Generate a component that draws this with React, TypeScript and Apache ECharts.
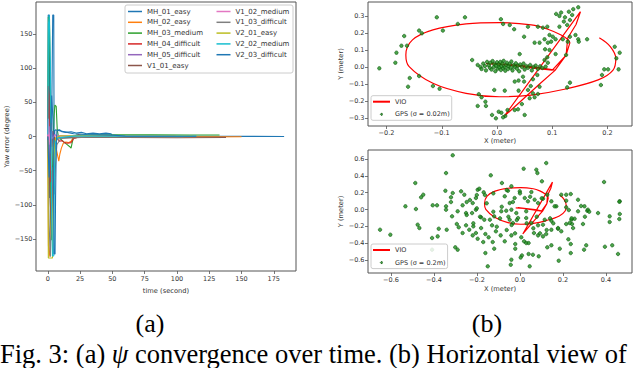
import React, { useEffect, useRef } from 'react';
import * as echarts from 'echarts';

// ---------- Left panel: yaw error vs time ----------
const timeTicks = [0, 25, 50, 75, 100, 125, 150, 175];
const yawTicks = [-150, -100, -50, 0, 50, 100, 150];

const seqNames = [
  'MH_01_easy', 'MH_02_easy', 'MH_03_medium', 'MH_04_difficult', 'MH_05_difficult', 'V1_01_easy',
  'V1_02_medium', 'V1_03_difficult', 'V2_01_easy', 'V2_02_medium', 'V2_03_difficult',
];
const seqColors = [
  '#1f77b4', '#ff7f0e', '#2ca02c', '#d62728', '#9467bd', '#8c564b',
  '#e377c2', '#7f7f7f', '#bcbd22', '#17becf', '#1f77b4',
];

const mh01 = [[0, 2], [0.3, 178], [1.2, 178], [1.4, -90], [2.2, -30], [3, 25], [3.8, 178], [4.6, 178], [4.9, -40], [5.4, 8], [6, 10], [7, 9], [9, 10], [11, 7], [14, 6], [18, 7], [22, 5], [26, 6], [30, 4], [35, 5], [40, 4], [45, 5], [49, 4], [50, 0.5], [70, 0.3], [100, 0.2], [140, 0.3], [183, 0]];
const mh02 = [[0, -3], [0.5, -160], [1, -176], [1.6, -168], [2.2, -110], [3, -50], [4, -70], [5, -30], [6, -12], [7, -22], [8.5, -36], [9.3, -26], [10.5, -17], [12, -10], [14, -8], [16, -9], [18, -7], [19.5, -2], [22, -1], [40, -0.5], [80, -0.8], [120, -0.5], [150, -0.3]];
const mh03 = [[0, 8], [0.4, 175], [1.3, 172], [1.8, 90], [2.4, -120], [3, -152], [3.4, -80], [4, -10], [4.8, 30], [5.5, 46], [6.5, 44], [7.3, 10], [8, 2], [10, -4], [13, -9], [15, -12], [17, -15], [18, -17], [19, -8], [20, 0], [22, 2], [40, 2.5], [80, 2.6], [110, 2.2], [133, 2.2]];
const mh04 = [[0, 0], [0.4, 74], [0.9, 60], [1.4, -45], [1.9, -67], [2.4, 20], [3, -15], [4, 8], [5, -4], [7, -2], [9, -7], [11, -6], [13, -9], [15, -10], [18, -9], [20, -3], [22, -2], [23.5, 3], [26, 1], [50, 0.6], [99, 0.3]];
const mh05 = [[0, 0], [0.4, 26], [0.9, -50], [1.5, 15], [2.2, -25], [3, 8], [4, -4], [5, 3], [7, 1], [20, 0.5], [60, 0.2], [111, 0]];
const v101 = [[0, 0], [0.8, -30], [1.8, -95], [2.8, -125], [3.8, -70], [4.8, -25], [6, -6], [8, -2], [20, -1.2], [60, -1.5], [100, -1.8], [138, -1.5]];
const v102 = [[0, 0], [0.5, 26], [1, -12], [2, 6], [3, -3], [5, 1], [20, 0.3], [83, 0]];
const v103 = [[0, 0], [1, -130], [2, -176], [3, -100], [4, -45], [5, -85], [6, -40], [7, -12], [10, -3], [30, -1], [105, -0.5]];
const v201 = [[0, -5], [0.4, -178], [3.6, -178], [4, -110], [5, -25], [6, -2], [10, 1], [60, 0.8], [112, 0.5]];
const v202 = [[0, 3], [0.5, 165], [1.1, 178], [2, 110], [3, -110], [3.6, -175], [4.6, -175], [5.1, -50], [6, -8], [8, -2], [20, 0.5], [115, 0.3]];
const v203 = [[0, 0], [1, -60], [2, -15], [3, 60], [4, 25], [4.8, -172], [5.6, -172], [6, -90], [6.5, -20], [7, 8], [8, 9], [10, 8], [15, 6], [20, 4], [30, 3], [50, 2], [60, 0.5], [115, 0.3]];
const yawData = [mh01, mh02, mh03, mh04, mh05, v101, v102, v103, v201, v202, v203];

// ---------- Right panels: VIO trajectory and GPS ----------
const xTicksTop = [-0.2, -0.1, 0, 0.1, 0.2];
const yTicksTop = [-0.3, -0.2, -0.1, 0, 0.1, 0.2, 0.3];
const xTicksBot = [-0.6, -0.4, -0.2, 0, 0.2, 0.4];
const yTicksBot = [-0.6, -0.4, -0.2, 0, 0.2, 0.4, 0.6];

const vioLoop = [[-0.02, 0.02], [0.02, 0.012], [0.06, 0.0], [0.105, -0.018], [0.07, 0.0], [0.03, 0.012], [-0.01, 0.022], [0.03, 0.008], [0.07, -0.008], [0.1, -0.018], [0.125, 0.069], [0.128, 0.17], [0.143, 0.25], [0.151, 0.325], [0.013, -0.29], [0.077, -0.1], [0.105, -0.02], [0.125, 0.07], [0.132, 0.143]];
const vioEllipse = [[0.132, 0.143], [0.129, 0.159], [0.116, 0.188], [0.092, 0.222], [0.062, 0.247], [0.004, 0.261], [-0.056, 0.253], [-0.116, 0.218], [-0.153, 0.159], [-0.165, 0.071], [-0.159, 0.002], [-0.116, -0.096], [-0.056, -0.155], [0.004, -0.175], [0.062, -0.165], [0.122, -0.131], [0.183, -0.076], [0.21, -0.018], [0.215, 0.05], [0.205, 0.12], [0.185, 0.172]];

const gpsSmall = [
  [-0.213, -0.008], [-0.109, 0.292], [-0.058, 0.292], [-0.071, 0.253], [-0.098, 0.214], [-0.141, 0.214], [-0.136, 0.198], [-0.168, 0.182], [-0.173, 0.125], [-0.163, 0.125], [-0.182, 0.084], [-0.184, 0.025], [-0.158, -0.065], [-0.141, -0.053], [-0.161, -0.116], [-0.116, -0.112], [-0.104, -0.128], [-0.045, 0.041], [-0.033, -0.16], [-0.005, -0.135], [-0.021, -0.204], [-0.035, -0.229], [-0.02, -0.229], [-0.009, -0.282], [-0.002, -0.302], [0.003, -0.263], [-0.028, -0.178],
  [0.147, 0.351], [0.138, 0.34], [0.13, 0.325], [0.116, 0.32], [0.107, 0.312], [0.113, 0.3], [0.123, 0.292], [0.132, 0.276], [0.136, 0.306], [0.121, 0.267], [0.127, 0.247], [0.113, 0.237], [0.007, 0.281], [0.011, 0.253], [0.023, 0.247], [0.031, 0.222], [0.056, 0.237], [0.074, 0.237], [0.083, 0.231], [0.091, 0.237], [0.049, 0.178], [0.068, 0.143], [0.077, 0.143], [0.086, 0.163], [0.095, 0.188], [0.101, 0.178], [0.106, 0.163], [0.092, 0.143], [0.098, 0.149], [0.119, 0.163], [0.132, 0.178], [0.128, 0.149], [0.142, 0.188], [0.147, 0.163], [0.148, 0.149], [0.163, 0.163], [0.087, 0.104], [0.095, 0.1], [0.041, 0.076], [0.106, 0.076], [0.125, 0.071], [0.091, 0.057], [0.086, 0.041], [0.092, 0.025], [0.213, 0.119], [0.222, 0.084], [0.216, 0.051], [0.22, -0.014], [0.201, -0.014], [0.194, -0.014], [0.19, -0.047], [0.188, -0.106], [0.132, -0.092], [0.127, -0.12], [0.047, -0.057], [0.039, -0.08], [0.049, -0.086], [0.032, -0.086], [0.065, -0.072], [0.073, -0.047], [0.077, -0.116], [0.061, -0.112], [0.014, -0.139], [0.039, -0.139], [0.056, -0.135], [0.065, -0.155], [0.068, -0.178], [0.074, -0.159], [0.059, -0.184], [0.045, -0.218], [0.032, -0.253], [0.038, -0.249], [0.015, -0.288], [0.011, -0.296], [0.05, -0.282], [0.019, -0.253], [0.008, -0.269],
  [-0.035, 0.012], [-0.03, 0.0], [-0.028, -0.012], [-0.025, 0.02], [-0.022, 0.005], [-0.02, -0.02], [-0.018, 0.03], [-0.015, 0.01], [-0.013, -0.005], [-0.012, 0.025], [-0.01, -0.015], [-0.008, 0.035], [-0.006, 0.0], [-0.005, 0.018], [-0.003, -0.025], [-0.002, 0.008], [0.0, 0.028], [0.001, -0.01], [0.003, 0.015], [0.004, -0.002], [0.006, 0.03], [0.007, -0.018], [0.008, 0.005], [0.01, 0.02], [0.011, -0.008], [0.012, 0.036], [0.014, 0.0], [0.015, -0.022], [0.016, 0.012], [0.018, 0.025], [0.02, -0.012], [0.021, 0.005], [0.023, 0.018], [0.025, -0.004], [0.026, 0.032], [0.028, -0.02], [0.03, 0.01], [0.032, 0.0], [0.034, 0.022], [0.036, -0.01], [0.038, 0.008], [0.04, -0.025], [0.042, 0.015], [0.045, 0.0], [0.048, 0.02], [0.05, -0.015], [0.053, 0.006], [0.056, -0.005], [0.06, 0.012], [0.063, -0.02], [0.066, 0.0], [0.07, 0.008], [0.074, -0.012], [0.078, 0.004], [0.082, -0.006], [0.088, 0.002],
];

const gpsLarge = [
  [-0.313, 0.644], [-0.344, 0.433], [-0.487, 0.315], [-0.45, 0.176], [-0.46, 0.145], [-0.533, 0.038], [-0.484, 0.006], [-0.406, 0.05], [-0.386, 0.05], [-0.347, 0.223], [-0.313, 0.196], [-0.321, 0.145], [-0.321, 0.089], [-0.344, 0.038], [-0.344, -0.002], [-0.29, -0.021], [-0.316, -0.081], [-0.274, 0.216], [-0.259, 0.176], [-0.248, 0.089], [-0.267, 0.05], [-0.251, -0.042], [-0.223, -0.042], [-0.205, -0.002], [-0.22, 0.077], [-0.205, 0.137], [-0.197, 0.235], [-0.189, 0.247], [-0.169, 0.204], [-0.136, 0.406],
  [-0.476, -0.18], [-0.468, -0.22], [-0.651, -0.24], [-0.603, -0.299], [-0.378, -0.228], [-0.409, -0.338], [-0.383, -0.319], [-0.341, -0.24], [-0.294, -0.172], [-0.285, -0.211], [-0.267, -0.279], [-0.301, -0.449], [-0.29, -0.477], [-0.251, -0.188], [-0.236, -0.24], [-0.22, -0.307], [-0.217, -0.2], [-0.205, -0.279], [-0.197, -0.347], [-0.181, -0.22], [-0.161, -0.291], [-0.171, -0.386], [-0.15, -0.675], [-0.161, -0.517], [-0.146, -0.33], [-0.127, -0.386], [-0.12, -0.465], [-0.112, -0.259], [-0.13, -0.188], [-0.14, -0.121], [-0.12, -0.081], [-0.166, -0.121], [-0.181, -0.093], [-0.409, -0.477],
  [0.122, 0.552], [0.017, 0.485], [0.076, 0.473], [0.081, 0.433], [0.102, 0.335], [-0.084, 0.315], [0.391, 0.327], [-0.04, 0.276],
  [0.363, -0.042], [0.417, -0.081], [0.417, -0.148], [0.464, 0.097], [0.464, -0.053], [0.429, -0.425], [0.456, -0.528], [0.308, -0.425], [0.298, -0.477], [0.236, -0.517], [0.236, -0.41], [0.185, -0.465], [0.18, -0.608], [0.146, -0.425], [0.127, -0.449], [0.087, -0.556], [0.06, -0.537], [0.04, -0.528], [0.045, -0.675], [0.009, -0.545], [0.003, -0.57], [-0.04, -0.596], [-0.043, -0.656], [-0.022, -0.465], [-0.022, -0.41], [0.019, -0.378], [0.029, -0.398], [0.04, -0.398], [-0.071, -0.378], [-0.09, -0.307], [-0.04, -0.307], [0.006, -0.33], [0.084, -0.307], [0.107, -0.319], [0.122, -0.291], [0.065, -0.279], [0.146, -0.24], [0.177, -0.228], [0.215, -0.172], [0.242, -0.172], [0.254, -0.109], [0.27, -0.021], [0.3, 0.038], [0.313, -0.014], [0.27, 0.116], [0.236, 0.184], [0.215, 0.176], [0.192, 0.176], [0.215, 0.105], [0.215, 0.026], [0.227, -0.006], [0.169, 0.038],
  [-0.056, 0.223], [-0.001, 0.216], [0.053, 0.208], [-0.071, 0.157], [-0.025, 0.137], [0.022, 0.137], [0.068, 0.117], [0.107, 0.129], [0.127, 0.176], [0.146, 0.097], [-0.048, 0.077], [-0.033, 0.089], [0.037, 0.097], [0.084, 0.077], [0.161, 0.038], [-0.087, -0.021], [-0.064, -0.014], [-0.04, -0.002], [-0.017, -0.042], [0.029, -0.021], [-0.009, -0.101], [-0.048, -0.121], [-0.033, -0.16], [0.029, -0.101], [0.053, -0.16], [0.084, -0.188], [0.107, -0.18], [0.115, -0.121], [0.146, -0.133], [0.177, -0.22], [0.192, -0.259], [0.239, -0.121], [0.231, -0.16], [0.247, -0.22], [0.293, -0.172], [0.316, -0.002],
  [0.462, 0.093], [0.462, -0.113], [0.322, -0.026], [0.284, 0.042], [0.302, -0.085], [0.24, -0.105], [0.225, -0.354], [0.395, -0.442],
  [-0.233, 0.113], [-0.201, 0.014], [-0.186, -0.085], [-0.248, -0.065], [-0.217, -0.164], [-0.155, 0.074], [-0.124, -0.026], [-0.093, -0.105], [-0.108, -0.204], [-0.062, -0.243], [-0.085, 0.033], [-0.054, -0.085], [-0.039, -0.184], [-0.015, -0.125], [-0.023, -0.283], [0.031, -0.164], [0.062, -0.223], [0.093, -0.283], [0.124, -0.243], [0.155, -0.164], [0.14, -0.105], [0.078, -0.085], [0.047, 0.152], [0.101, 0.133], [0.0, 0.192], [-0.062, 0.232], [-0.124, 0.192], [-0.163, 0.172], [-0.201, 0.172],
];

const FONT = 'DejaVu Sans';
const TXT = '#333';
const AX = '#555';
const GPS_FILL = '#1f8f1f';
const GPS_EDGE = '#075307';

const fmt0 = (v: number) => (v < 0 ? '\u2212' : '') + Math.abs(Math.round(v));
const fmt1 = (v: number) => (v < -1e-9 ? '\u2212' : '') + Math.abs(v).toFixed(1);

function mkAxis(gridIndex: number, min: number, max: number, ticks: number[], fmt: (v: number) => string,
  name: string, nameGap: number, margin: number) {
  return {
    type: 'value', gridIndex, min, max,
    axisLine: { show: false, onZero: false },
    axisTick: { show: true, length: 3, lineStyle: { color: AX, width: 0.8 }, customValues: ticks },
    axisLabel: { customValues: ticks, formatter: fmt, fontSize: 6.5, fontFamily: FONT, color: TXT, margin },
    splitLine: { show: false },
    name, nameLocation: 'middle', nameGap,
    nameTextStyle: { fontSize: 6.7, fontFamily: FONT, color: TXT },
  };
}

export default function App() {
  const ref = useRef<HTMLDivElement>(null);
  useEffect(() => {
    if (!ref.current) return;
    const chart = echarts.init(ref.current, null, { renderer: 'svg' });
    const gridStyle = { show: true, borderColor: AX, borderWidth: 1, backgroundColor: 'transparent' };

    const yawSeries = yawData.map((d, i) => ({
      type: 'line', name: seqNames[i], xAxisIndex: 0, yAxisIndex: 0, data: d,
      symbol: 'none', showSymbol: false, color: seqColors[i],
      lineStyle: { width: 1.1, color: seqColors[i] }, z: 2,
    }));

    const vioStyle = { width: 1.2, color: '#ff0000' };
    const rightSeries: any[] = [];
    [1, 2].forEach((g) => {
      rightSeries.push({ type: 'line', name: 'VIO', xAxisIndex: g, yAxisIndex: g, data: vioLoop, symbol: 'none', color: '#ff0000', lineStyle: vioStyle, z: 2 });
      rightSeries.push({ type: 'line', name: 'VIO', xAxisIndex: g, yAxisIndex: g, data: vioEllipse, symbol: 'none', smooth: 0.35, color: '#ff0000', lineStyle: vioStyle, z: 2 });
    });
    const gpsItem = { color: GPS_FILL, borderColor: GPS_EDGE, borderWidth: 0.7 };
    rightSeries.push({ type: 'scatter', name: 'GPS (\u03c3 = 0.02m)', xAxisIndex: 1, yAxisIndex: 1, data: gpsSmall, symbolSize: 3.5, itemStyle: gpsItem, z: 3 });
    rightSeries.push({ type: 'scatter', name: 'GPS (\u03c3 = 0.2m)', xAxisIndex: 2, yAxisIndex: 2, data: gpsLarge, symbolSize: 3.5, itemStyle: gpsItem, z: 3 });

    const leftLegendBase = {
      orient: 'vertical', top: 7.5, itemWidth: 14, itemHeight: 1.5, itemGap: 2.8, icon: 'rect', padding: 0,
      textStyle: { fontSize: 7, lineHeight: 8, fontFamily: FONT, color: TXT }, selectedMode: false,
    };
    const rightLegendBase = {
      orient: 'vertical', left: 371, itemWidth: 17, itemHeight: 2, itemGap: 4.6, padding: [2, 2, 2, 2],
      backgroundColor: 'rgba(255,255,255,0.85)', borderColor: '#cccccc', borderWidth: 1, borderRadius: 2,
      textStyle: { fontSize: 6.5, lineHeight: 8, fontFamily: FONT, color: TXT }, selectedMode: false, z: 10,
    };
    const gpsLegendStyle = { borderColor: GPS_EDGE, borderWidth: 0.8 };
    const serif = '"Liberation Serif", "Times New Roman", serif';

    chart.setOption({
      animation: false,
      backgroundColor: '#ffffff',
      grid: [
        { left: 36, top: 2, width: 260, height: 269, ...gridStyle },
        { left: 368, top: 2, width: 264, height: 124, ...gridStyle },
        { left: 368, top: 150, width: 264, height: 123, ...gridStyle },
      ],
      xAxis: [
        mkAxis(0, -9.15, 192.2, timeTicks, fmt0, 'time (second)', 14, 4.5),
        mkAxis(1, -0.2335, 0.2443, xTicksTop, fmt1, 'X (meter)', 11.5, 3),
        mkAxis(2, -0.707, 0.521, xTicksBot, fmt1, 'X (meter)', 12.5, 3.5),
      ],
      yAxis: [
        mkAxis(0, -197, 197, yawTicks, fmt0, 'Yaw error (degree)', 23, 3.5),
        mkAxis(1, -0.347, 0.382, yTicksTop, fmt1, 'Y (meter)', 22, 3.5),
        mkAxis(2, -0.754, 0.707, yTicksBot, fmt1, 'Y (meter)', 22, 3.5),
      ],
      legend: [
        { ...leftLegendBase, left: 128, data: seqNames.slice(0, 6) },
        { ...leftLegendBase, left: 216.5, data: seqNames.slice(6) },
        {
          ...rightLegendBase, top: 95.7,
          data: [{ name: 'VIO', icon: 'rect' }, { name: 'GPS (\u03c3 = 0.02m)', icon: 'circle', itemStyle: gpsLegendStyle }],
        },
        {
          ...rightLegendBase, top: 244,
          data: [{ name: 'VIO', icon: 'rect' }, { name: 'GPS (\u03c3 = 0.2m)', icon: 'circle', itemStyle: gpsLegendStyle }],
        },
      ],
      graphic: [
        { type: 'rect', shape: { x: 125, y: 5, width: 168, height: 68, r: 2 }, style: { fill: 'rgba(255,255,255,0.85)', stroke: '#cccccc', lineWidth: 1 }, z: 1 },
        { type: 'text', x: 150, y: 323, style: { text: '(a)', font: '26px ' + serif, fill: '#000', textAlign: 'center', textVerticalAlign: 'middle' } },
        { type: 'text', x: 487, y: 323, style: { text: '(b)', font: '26px ' + serif, fill: '#000', textAlign: 'center', textVerticalAlign: 'middle' } },
        {
          type: 'text', x: 0, y: 354,
          style: {
            text: '{n|Fig. 3: (a) }{i|\u03c8}{n| convergence over time. (b) Horizontal view of}',
            textVerticalAlign: 'middle', textAlign: 'left',
            rich: {
              n: { fontFamily: serif, fontSize: 26.5, lineHeight: 26, fill: '#000', color: '#000' },
              i: { fontFamily: serif, fontSize: 26.5, lineHeight: 26, fontStyle: 'italic', fill: '#000', color: '#000' },
            },
          },
        },
      ],
      series: [...yawSeries, ...rightSeries],
    });
    return () => chart.dispose();
  }, []);
  return <div ref={ref} style={{ position: 'absolute', left: 0, top: 0, width: 640, height: 368 }} />;
}
